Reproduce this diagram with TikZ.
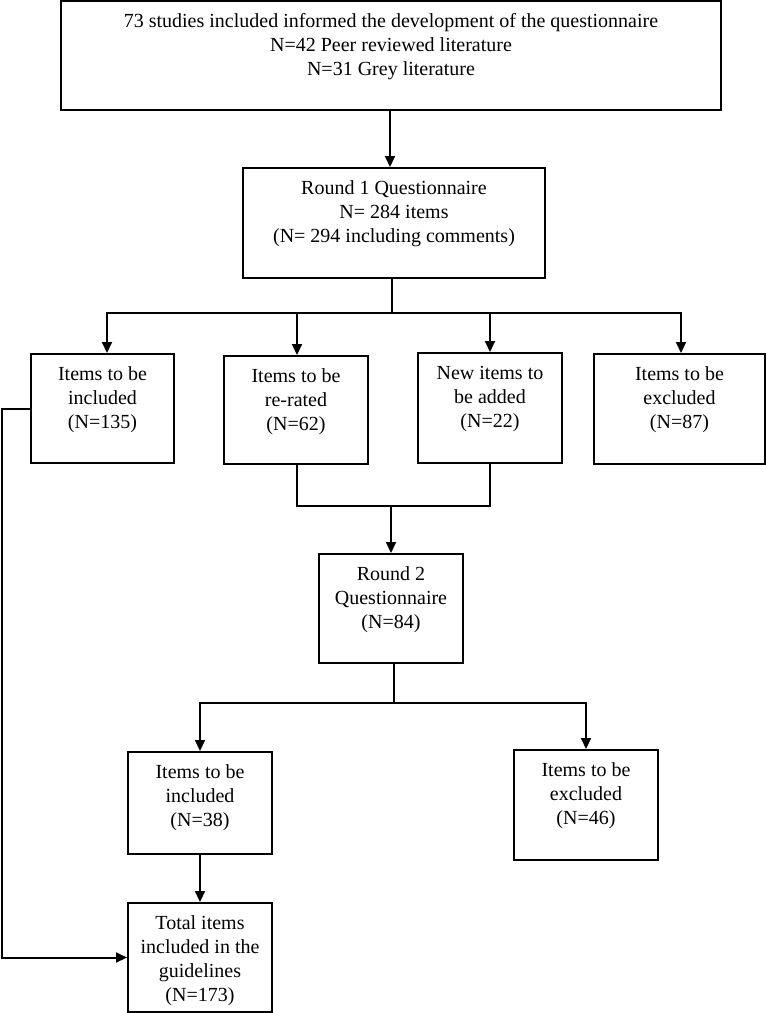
\documentclass[tikz,border=0pt]{standalone}
\usepackage{fontspec}
\setmainfont{Liberation Serif}
\usetikzlibrary{arrows.meta}
\newcommand{\boxtxt}[3]{\parbox[c][#2][t]{#1}{\centering\rule{0pt}{26pt}#3\par}}
\begin{document}
\begin{tikzpicture}[x=1pt,y=-1pt,
  box/.style={draw, line width=2pt, inner sep=0pt, font=\fontsize{20}{24}\selectfont},
  conn/.style={line width=2pt},
  arr/.style={line width=2pt, -{Triangle[length=11pt,width=10pt]}}]
\useasboundingbox (0,0) rectangle (766,1013);
% boxes
\node[box] (top) at (391,55.5) {\boxtxt{660pt}{109pt}{73 studies included informed the development of the questionnaire\\N=42 Peer reviewed literature\\N=31 Grey literature}};
\node[box] (r1) at (394,223) {\boxtxt{302pt}{110pt}{Round 1 Questionnaire\\N= 284 items\\(N= 294 including comments)}};
\node[box] (b1) at (102.5,408.5) {\boxtxt{143pt}{109pt}{Items to be\\included\\(N=135)}};
\node[box] (b2) at (296,410) {\boxtxt{144pt}{108pt}{Items to be\\re-rated\\(N=62)}};
\node[box] (b3) at (490,408) {\boxtxt{144pt}{110pt}{New items to\\be added\\(N=22)}};
\node[box] (b4) at (679.5,409) {\boxtxt{171pt}{110pt}{Items to be\\excluded\\(N=87)}};
\node[box] (r2) at (391,608.5) {\boxtxt{144pt}{109pt}{Round 2\\Questionnaire\\(N=84)}};
\node[box] (b5) at (200,803) {\boxtxt{144pt}{102pt}{Items to be\\included\\(N=38)}};
\node[box] (b6) at (586,805) {\boxtxt{144pt}{110pt}{Items to be\\excluded\\(N=46)}};
\node[box] (b7) at (200,957.5) {\boxtxt{144pt}{109pt}{Total items\\included in the\\guidelines\\(N=173)}};
% helper coordinates
\coordinate (t1) at (390,0);
\coordinate (j1) at (392,313);
\coordinate (a1) at (107,0);
\coordinate (a2) at (297,0);
\coordinate (a3) at (490,0);
\coordinate (a4) at (681,0);
\coordinate (m) at (391,506);
\coordinate (j2) at (394,703);
\coordinate (lx) at (2,0);
% connectors
\draw[arr] (top.south -| t1) -- (r1.north -| t1);
\draw[conn] (r1.south -| j1) -- (j1);
\draw[arr] (j1) -| (b1.north -| a1);
\draw[arr] (j1) -| (b2.north -| a2);
\draw[arr] (j1) -| (b3.north -| a3);
\draw[arr] (j1) -| (b4.north -| a4);
\draw[conn] (b2.south -| a2) -- (a2 |- m) -- (a3 |- m) -- (b3.south -| a3);
\draw[arr] (m) -- (r2.north -| m);
\draw[conn] (r2.south -| j2) -- (j2);
\draw[arr] (j2) -| (b5.north);
\draw[arr] (j2) -| (b6.north);
\draw[arr] (b5.south) -- (b7.north);
\draw[arr] (b1.west) -- (b1.west -| lx) |- (b7.west);
\end{tikzpicture}
\end{document}
